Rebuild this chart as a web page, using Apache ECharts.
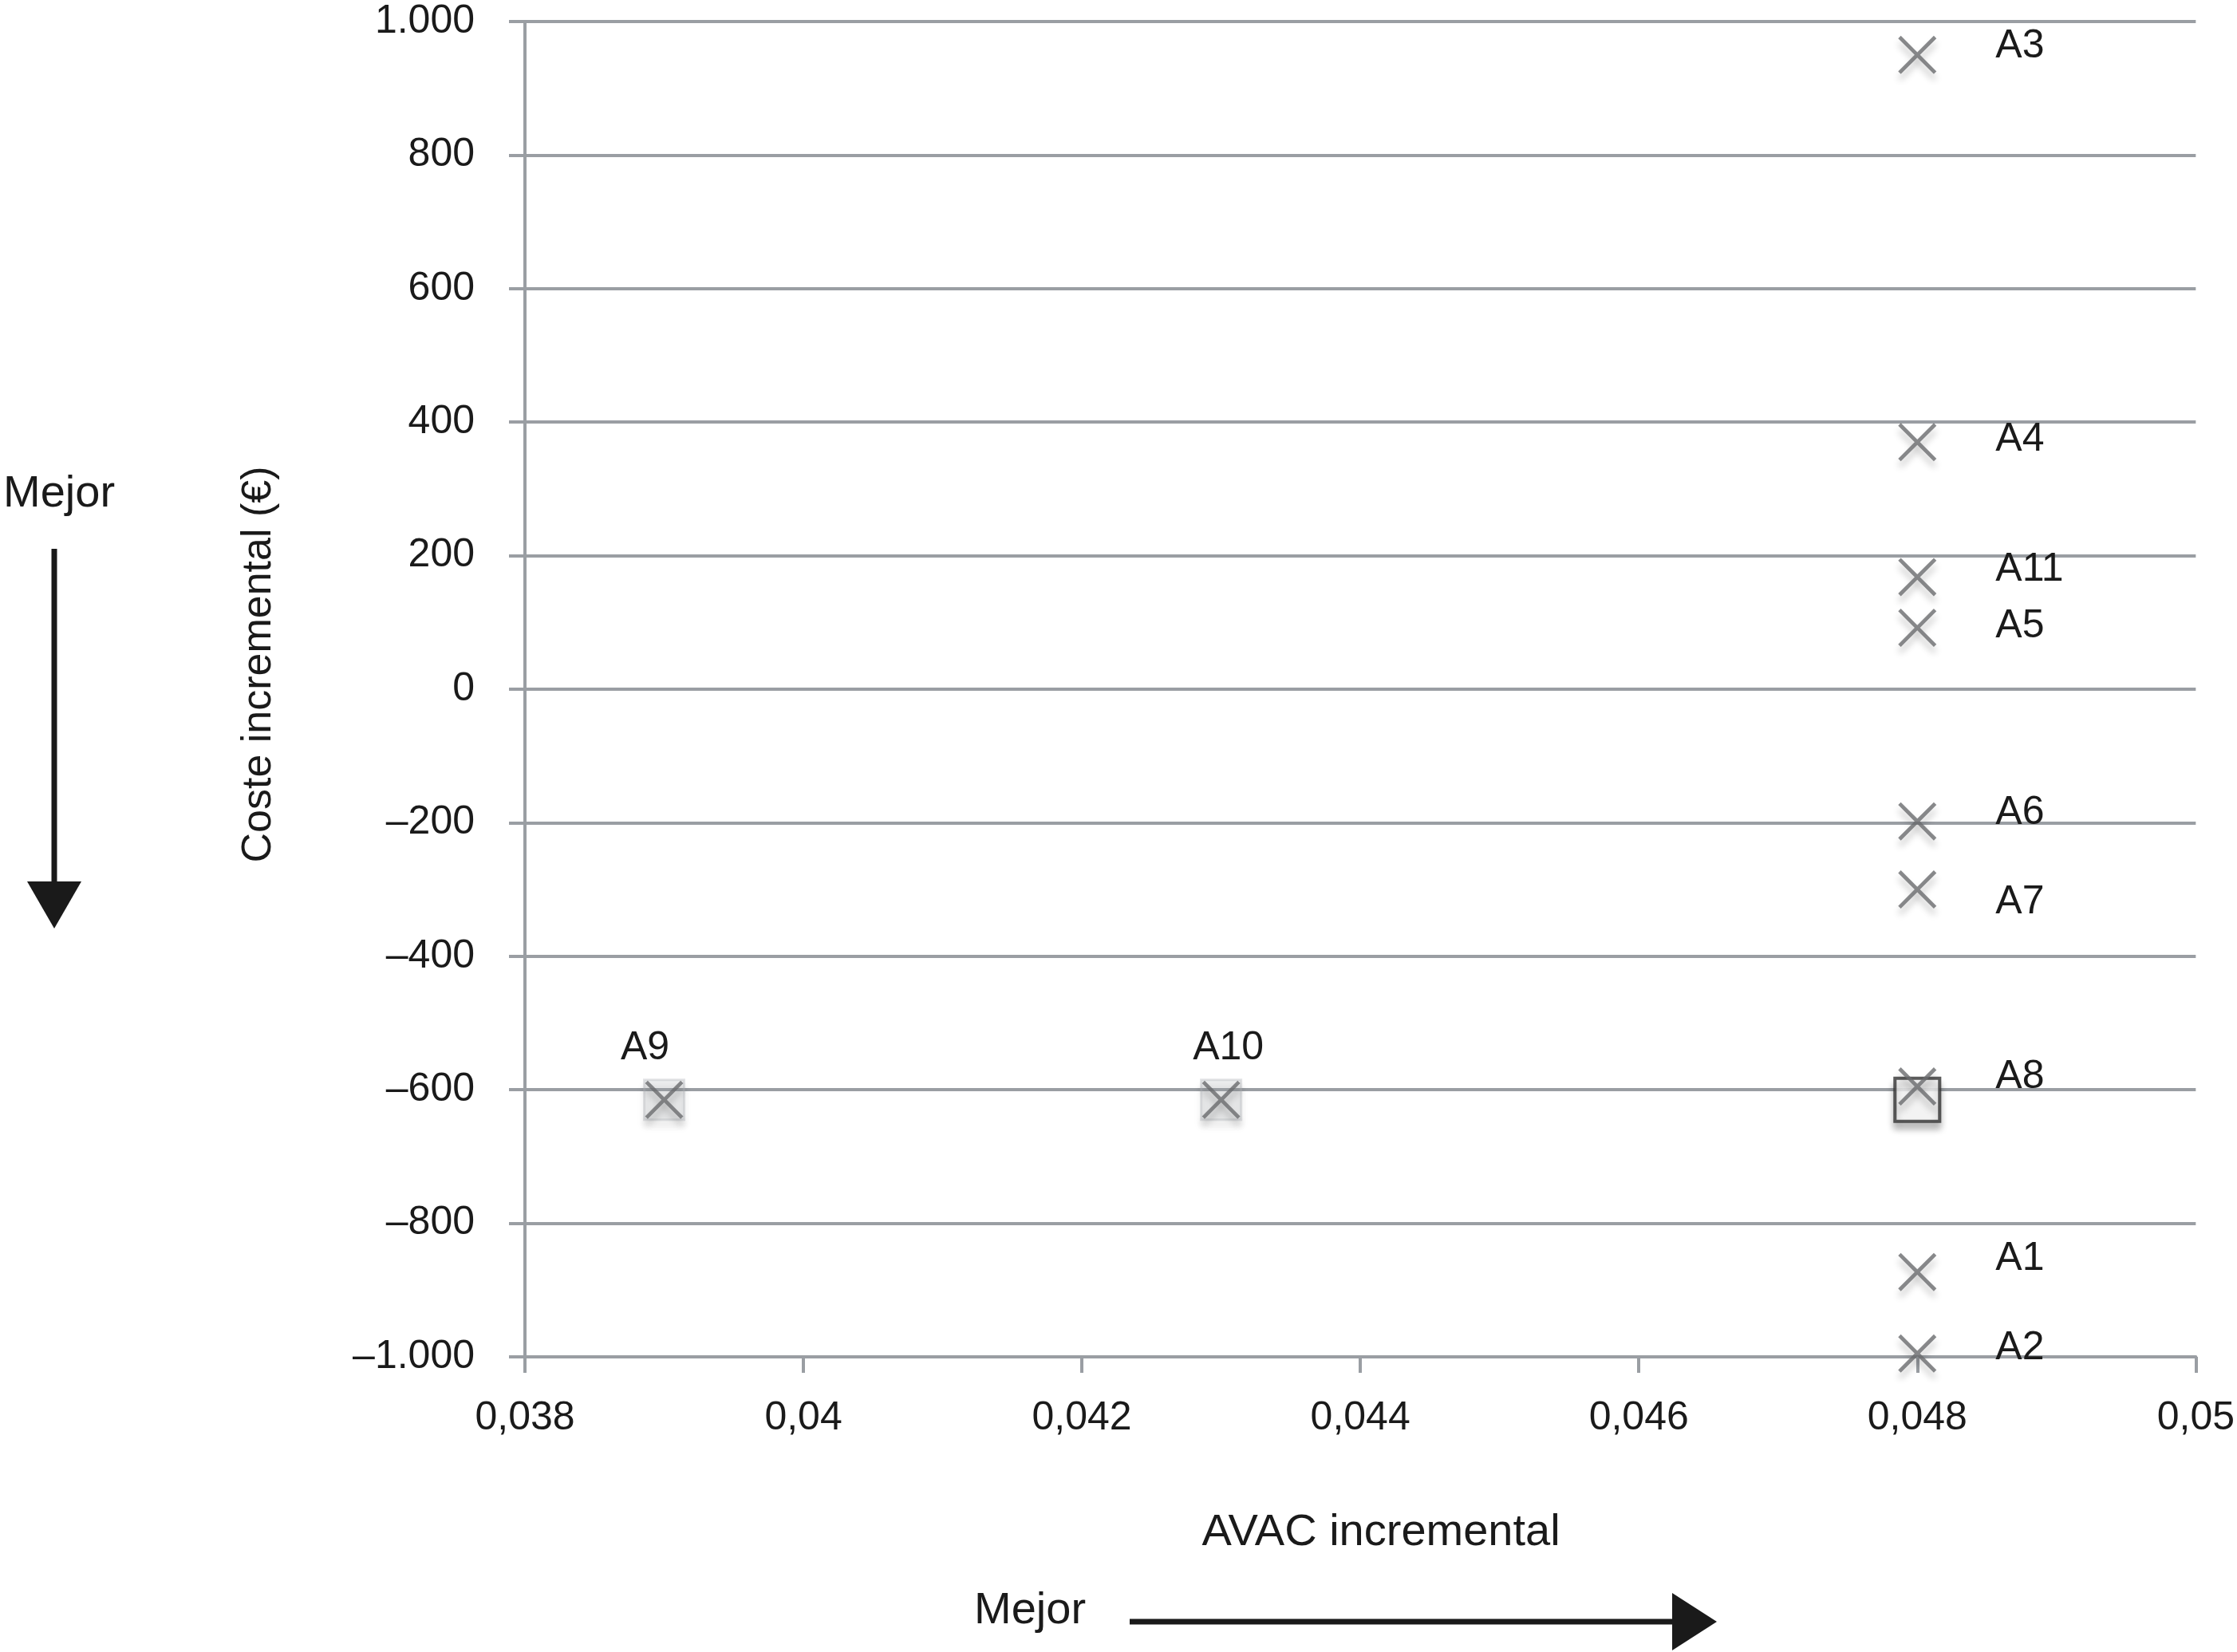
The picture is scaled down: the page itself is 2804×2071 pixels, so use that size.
<!DOCTYPE html>
<html><head><meta charset="utf-8">
<script src="https://cdn.jsdelivr.net/npm/echarts@6/dist/echarts.min.js"></script>
<style>html,body{margin:0;padding:0;background:#fff}#c{width:2804px;height:2071px}</style>
</head><body><div id="c"></div>
<script>
// ---- data ----
const crossNames = ['A1','A2','A3','A4','A5','A6','A7','A8','A9','A10','A11'];
const crossAvac  = [0.048,0.048,0.048,0.048,0.048,0.048,0.048,0.048,0.039,0.043,0.048];
const crossCost  = [-873,-995,950,370,92,-198,-300,-595,-615,-615,168];
const frontierNames = ['A9','A10'];
const frontierAvac  = [0.039,0.043];
const frontierCost  = [-615,-615];
const refNames = ['A8'];
const refAvac  = [0.048];
const refCost  = [-615];
const xTickLabels = ['0,038','0,04','0,042','0,044','0,046','0,048','0,05'];
const yTickLabels = ['1.000','800','600','400','200','0','\u2013200','\u2013400','\u2013600','\u2013800','\u20131.000'];
// label nudges (layout only)
const labelNudge = {A1:[0,-16],A2:[0,-7],A3:[0,-11],A4:[0,-3],A5:[0,-2],A6:[0,-11],A7:[0,16],A8:[0,-12],A9:[-24,0],A10:[9,0],A11:[0,-9]};

const FONT = 'Liberation Sans, Arial, Helvetica, sans-serif';
const GRID = '#9a9ea3';
const INK = '#1a1a1a';
const crossPath = 'path://M0,7L7,0L50,43L93,0L100,7L57,50L100,93L93,100L50,57L7,100L0,93L43,50Z';

const crossData = crossNames.map((n,i)=>{
  const top = (n==='A9'||n==='A10');
  return {
    name:n, value:[crossAvac[i],crossCost[i]],
    label:{show:true,position: top?'top':'right', distance: top?16:74, offset: labelNudge[n],
      color:INK,opacity:1,fontSize:50,fontFamily:FONT,textShadowBlur:0,textShadowColor:'transparent'}
  };
});

const chart = echarts.init(document.getElementById('c'));
chart.setOption({
  animation:false,
  backgroundColor:'#fff',
  grid:{left:658,right:49,top:27,bottom:370},
  xAxis:{
    type:'value', min:0.038, max:0.05, interval:0.002,
    axisLine:{show:true,onZero:false,lineStyle:{color:GRID,width:4}},
    axisTick:{show:true,inside:false,length:20,lineStyle:{color:GRID,width:4}},
    splitLine:{show:false},
    axisLabel:{margin:52,color:INK,fontSize:50,fontFamily:FONT,
      formatter:v=>xTickLabels[Math.round((v-0.038)/0.002)]}
  },
  yAxis:{
    type:'value', min:-1000, max:1000, interval:200,
    axisLine:{show:true,onZero:false,lineStyle:{color:GRID,width:4}},
    axisTick:{show:true,inside:false,length:20,lineStyle:{color:GRID,width:4}},
    splitLine:{show:true,lineStyle:{color:GRID,width:4}},
    axisLabel:{margin:63,color:INK,fontSize:50,fontFamily:FONT,
      formatter:v=>yTickLabels[Math.round((1000-v)/200)]}
  },
  series:[
    {
      type:'scatter', name:'frontera', z:2,
      symbol:'rect', symbolSize:50,
      data: frontierNames.map((n,i)=>({name:n,value:[frontierAvac[i],frontierCost[i]]})),
      itemStyle:{color:'rgba(190,193,197,0.3)',borderColor:'rgba(175,178,183,0.45)',borderWidth:3,
        shadowBlur:8,shadowColor:'rgba(0,0,0,0.22)',shadowOffsetY:8}
    },
    {
      type:'scatter', name:'referencia', z:3,
      symbol:'rect', symbolSize:[56,54],
      data: refNames.map((n,i)=>({name:n,value:[refAvac[i],refCost[i]]})),
      itemStyle:{color:'#fff',borderColor:'#333',borderWidth:4,
        shadowBlur:8,shadowColor:'rgba(0,0,0,0.3)',shadowOffsetY:8}
    },
    {
      type:'scatter', name:'alternativas', z:4,
      symbol:crossPath, symbolSize:48,
      data: crossData,
      itemStyle:{color:'#6a6b6e',shadowBlur:8,shadowColor:'rgba(0,0,0,0.28)',shadowOffsetY:8},
      label:{show:true,formatter:p=>p.name,color:INK,fontSize:50,fontFamily:FONT},
      emphasis:{disabled:true}
    }
  ],
  graphic:[
    {type:'text',x:4,y:620,style:{text:'Mejor',font:'56px '+FONT,fill:INK,textAlign:'left',textVerticalAlign:'middle'}},
    {type:'rect',shape:{x:64.5,y:688,width:7,height:420},style:{fill:INK}},
    {type:'polygon',shape:{points:[[34,1105],[102,1105],[68,1164]]},style:{fill:INK}},
    {type:'text',x:1221,y:2020,style:{text:'Mejor',font:'56px '+FONT,fill:INK,textAlign:'left',textVerticalAlign:'middle'}},
    {type:'rect',shape:{x:1416,y:2029.5,width:684,height:7},style:{fill:INK}},
    {type:'polygon',shape:{points:[[2096,1997],[2096,2069],[2152,2033]]},style:{fill:INK}},
    {type:'text',x:1731,y:1922,style:{text:'AVAC incremental',font:'56px '+FONT,fill:INK,textAlign:'center',textVerticalAlign:'middle'}},
    {type:'text',x:325,y:833,rotation:Math.PI/2,style:{text:'Coste incremental (\u20AC)',font:'52px '+FONT,fill:INK,textAlign:'center',textVerticalAlign:'middle'}}
  ]
});
</script>
</body></html>
